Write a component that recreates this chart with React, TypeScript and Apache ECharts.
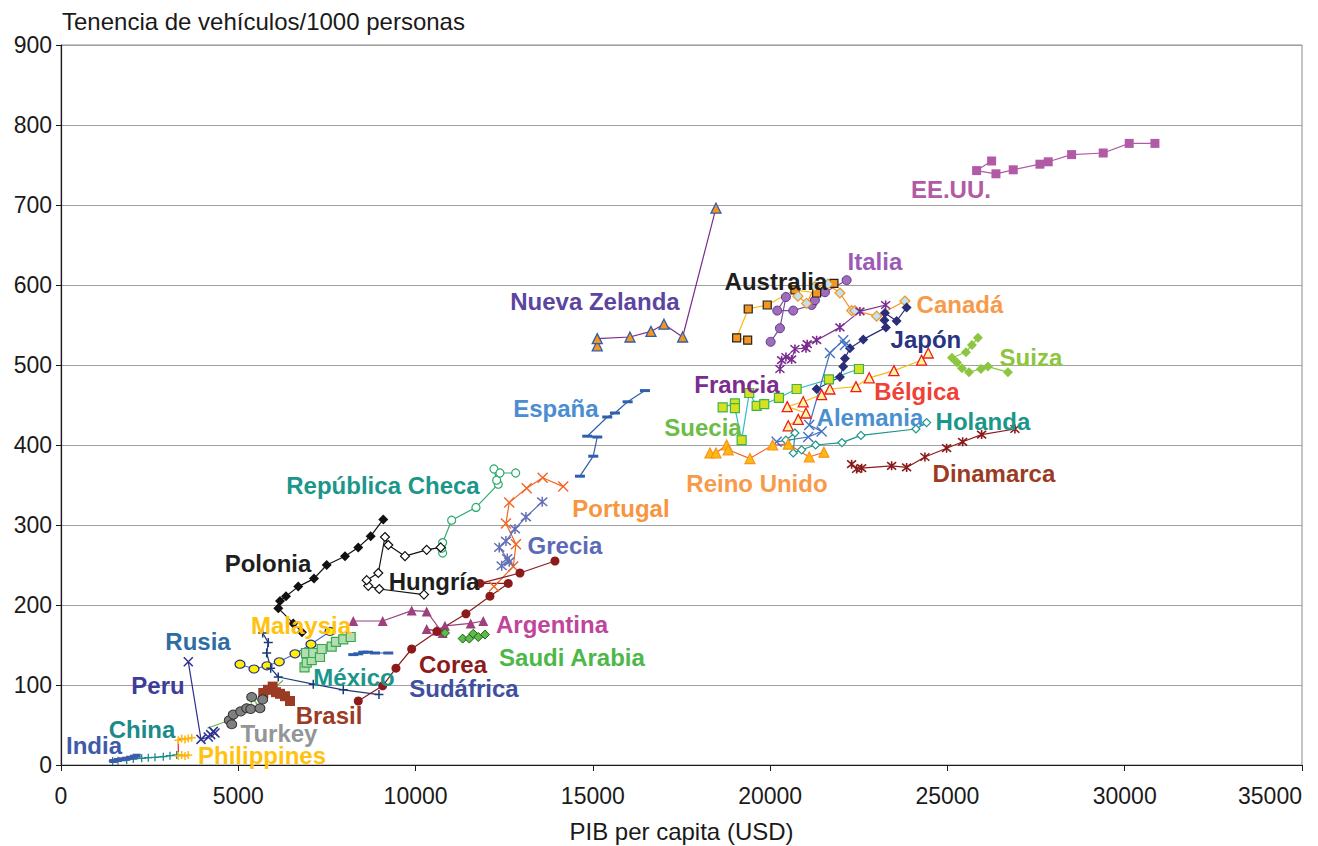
import React, { useEffect, useRef } from "react";
import * as echarts from "echarts";

// ---- data (x: PIB per capita USD, y: vehículos / 1000 personas) ----
const usa = [[26246,755],[25823,743],[26368,739],[26856,744],[27608,751],[27843,754],[28502,763],[29394,765],[30127,777],[30852,777]];
const italy = [[20014,529],[20276,546],[20445,585],[20200,568],[20651,568],[21170,575],[21263,581],[21545,591],[22157,606]];
const australia = [[19366,531],[19055,534],[19382,570],[19918,575],[20699,594],[21311,590],[21799,602]];
const canada = [[20784,586],[21029,577],[21263,598],[21630,601],[21968,590],[22298,568],[22391,568],[23003,561],[23801,580]];
const japan = [[21311,470],[21968,485],[22061,498],[22109,508],[22250,521],[22626,532],[23266,547],[23223,556],[23237,565],[23567,555],[23849,572]];
const france = [[20276,495],[20324,506],[20445,510],[20606,507],[20699,520],[21010,521],[21046,526],[21311,531],[21968,547],[22532,567],[23257,575]];
const switzerland = [[25860,534],[25691,525],[25522,516],[25127,509],[25268,503],[25409,496],[25606,491],[25945,495],[26142,498],[26706,491]];
const belgium = [[20510,424],[20792,432],[21010,440],[20482,448],[20933,454],[21452,463],[21686,470],[22420,473],[22795,484],[23491,493],[24272,506],[24459,515]];
const sweden = [[18661,447],[19007,452],[19007,446],[19196,406],[19411,465],[19619,449],[19834,451],[20248,459],[20747,470],[21658,482],[22504,495]];
const germany = [[20183,404],[21074,410],[21452,417],[21102,425],[21686,515],[22061,531],[22109,525]];
const netherlands = [[20445,406],[20699,415],[20651,390],[20888,394],[21283,400],[22025,403],[22561,412],[24112,420],[24413,428]];
const denmark = [[22298,376],[22439,370],[22580,371],[23426,374],[23849,372],[24365,385],[24977,396],[25429,404],[25964,413],[26903,420]];
const uk = [[18302,390],[18472,390],[18773,400],[18818,394],[19430,383],[20070,400],[20510,401],[21103,385],[21517,391]];
const newZealand = [[15124,524],[15124,533],[16046,535],[16638,542],[17005,551],[17532,535],[18472,696]];
const spain = [[14636,361],[15011,386],[15124,410],[14842,411],[15406,435],[15623,440],[15981,454],[16469,468]];
const portugal = [[12211,223],[12755,248],[12831,276],[12549,302],[12642,328],[13133,346],[13584,359],[14165,348]];
const greece = [[12428,249],[12642,254],[12586,258],[12360,272],[12549,280],[12803,295],[13113,310],[13573,329]];
const czech = [[10764,265],[10736,271],[10764,278],[11018,306],[11703,322],[12332,351],[12287,356],[12211,370],[12380,365],[12823,365]];
const poland = [[6796,166],[6551,177],[6128,196],[6176,205],[6345,211],[6692,223],[7135,233],[7493,250],[8009,261],[8384,272],[8734,286],[9089,307]];
const hungary = [[10237,213],[8976,220],[8666,224],[8621,231],[8948,240],[9137,285],[9230,275],[9701,261],[10313,269],[10708,272]];
const malaysia = [[5048,126],[5443,120],[5809,124],[6156,129],[6599,139],[7050,151],[7586,167]];
const russia = [[5688,165],[5846,153],[5801,140],[5914,121],[6128,110],[7115,101],[7961,94],[8968,88]];
const mexico = [[6867,122],[6929,128],[7070,131],[6909,140],[7115,140],[7304,135],[7352,145],[7634,148],[7755,154],[7961,157],[8170,160]];
const southAfrica = [[8243,138],[8384,139],[8525,141],[8658,141],[8855,140],[9230,140]];
const argentina = [[8243,180],[9072,180],[9890,193],[10313,192],[10764,165],[10313,170],[10595,168],[10829,174],[11554,177],[11909,180]];
const saudiArabia = [[10829,165],[11328,158],[11515,158],[11627,164],[11768,160],[11957,163]];
const korea = [[8384,80],[9072,99],[9447,121],[9890,145],[10603,167],[11421,189],[12098,211],[12614,227],[11816,227],[12944,240],[13931,255]];
const brazil = [[5705,90],[5838,94],[5970,98],[6063,91],[6176,89],[6317,86],[6458,80]];
const turkey = [[4126,46],[4746,56],[4814,51],[4859,63],[5068,67],[5237,71],[5350,70],[5378,85],[5612,71],[5688,82],[6261,106]];
const peru = [[3590,129],[3948,32],[4154,35],[4222,38],[4295,42],[4343,40]];
const china = [[1458,5],[1607,5.4],[1853,6.3],[2039,7.5],[2276,8.4],[2462,9.1],[2651,9.6],[2885,10.4],[3074,11.6],[3263,12.5]];
const india = [[1475,5],[1607,6.3],[1720,7.1],[1833,7.9],[1946,9.1],[2059,10.4],[2135,11.6]];
const philippines = [[3590,12.5],[3497,11.3],[3404,12.5],[3308,11.3],[3308,31],[3404,33],[3497,32],[3590,33],[3686,34]];

// country label names and their anchor points in data units
const labelNames = ["EE.UU.","Italia","Australia","Canadá","Nueva Zelanda","Japón","Suiza","Francia","Bélgica","España","Alemania","Holanda","Suecia","Dinamarca","Reino Unido","República Checa","Portugal","Grecia","Polonia","Hungría","Argentina","Malaysia","Rusia","Saudi Arabia","Corea","México","Peru","Sudáfrica","Brasil","China","Turkey","India","Philippines"];
const labelPoints = [[25099,719],[22955,630],[20164,605],[25352,576],[15059,580],[24394,532],[27355,509],[19064,476],[24140,467],[13959,446],[22814,435],[26001,430],[18105,422],[26311,364],[19628,352],[9081,350],[15792,321],[14213,274],[5838,252],[10519,230],[13847,176],[6768,174],[3863,155],[14411,135],[11055,126],[8263,110],[2735,100],[11365,96],[7558,62],[2284,44],[6148,40],[931,24],[5668,12.5]];

const xTicks = { min: 0, max: 35000, interval: 5000 };
const yTicks = { min: 0, max: 900, interval: 100 };

// ---- styles ----
const labelColors: Record<string, string> = {
  "EE.UU.": "#B15BA6", "Italia": "#9B5BB5", "Australia": "#1E1E1E", "Canadá": "#F79A4A",
  "Nueva Zelanda": "#5B45A0", "Japón": "#283480", "Suiza": "#8CC63F", "Francia": "#7B2C8F",
  "Bélgica": "#EF4136", "España": "#4A8DD0", "Alemania": "#4A90D0", "Holanda": "#1B968A",
  "Suecia": "#6ABD45", "Dinamarca": "#9B3B24", "Reino Unido": "#F79A4A", "República Checa": "#1B968A",
  "Portugal": "#F7963F", "Grecia": "#5B6BB5", "Polonia": "#1E1E1E", "Hungría": "#1E1E1E",
  "Argentina": "#C1449B", "Malaysia": "#FFC20E", "Rusia": "#2E6DA4", "Saudi Arabia": "#4CB848",
  "Corea": "#8B1A1A", "México": "#1B968A", "Peru": "#3D3D99", "Sudáfrica": "#3F4FA0",
  "Brasil": "#9B3B24", "China": "#1B8A8A", "Turkey": "#939598", "India": "#3D5BA9",
  "Philippines": "#FFC20E",
};

const SYM_X = "path://M0,0L10,10M10,0L0,10";
const SYM_AST = "path://M0,0L10,10M10,0L0,10M5,-1L5,11";
const SYM_PLUS = "path://M5,0L5,10M0,5L10,5";
const FONT = "'Liberation Sans', Arial, Helvetica, sans-serif";

type S = {
  name: string; data: number[][]; symbol: string; size: number | number[];
  fill: string; stroke?: string; sw?: number; line: string; lw?: number; noLine?: boolean;
  hideEnds?: boolean;
};

const seriesDefs: S[] = [
  { name: "EE.UU.", data: usa, symbol: "rect", size: 9, fill: "#B15BA6", line: "#B15BA6" },
  { name: "Italia", data: italy, symbol: "circle", size: 9, fill: "#A06CC0", stroke: "#5E3A7E", sw: 1, line: "#7B4C9E" },
  { name: "Australia", data: australia, symbol: "rect", size: 8, fill: "#F7941D", stroke: "#222222", sw: 1.2, line: "#FDB913" },
  { name: "Canadá", data: canada, symbol: "diamond", size: 10, fill: "#BFE3F2", stroke: "#F7941D", sw: 1.2, line: "#F7941D" },
  { name: "Japón", data: japan, symbol: "diamond", size: 10, fill: "#2A2D78", line: "#2A2D78" },
  { name: "Francia", data: france, symbol: SYM_AST, size: 9, fill: "#7B2C8F", stroke: "#7B2C8F", sw: 1.6, line: "#7B2C8F" },
  { name: "Suiza", data: switzerland, symbol: "diamond", size: 10, fill: "#8CC63F", line: "#8CC63F" },
  { name: "Bélgica", data: belgium, symbol: "triangle", size: 10, fill: "#FFF59D", stroke: "#ED1C24", sw: 1.3, line: "#FDB913" },
  { name: "Suecia", data: sweden, symbol: "rect", size: 9, fill: "#D9E021", stroke: "#39B54A", sw: 1.2, line: "#35B8C8" },
  { name: "Alemania", data: germany, symbol: SYM_X, size: 10, fill: "#4472C4", stroke: "#4472C4", sw: 1.4, line: "#4472C4" },
  { name: "Holanda", data: netherlands, symbol: "diamond", size: 8, fill: "#FFFFFF", stroke: "#1B968A", sw: 1.2, line: "#1B968A" },
  { name: "Dinamarca", data: denmark, symbol: SYM_AST, size: 9, fill: "#8B1A1A", stroke: "#8B1A1A", sw: 1.6, line: "#8B1A1A" },
  { name: "Reino Unido", data: uk, symbol: "triangle", size: 10, fill: "#FDB913", stroke: "#F7941D", sw: 1.2, line: "#F26522" },
  { name: "Nueva Zelanda", data: newZealand, symbol: "triangle", size: 10, fill: "#F7941D", stroke: "#2E5FAC", sw: 1.3, line: "#7B2D8E" },
  { name: "España", data: spain, symbol: "rect", size: [10, 3], fill: "#2E5FAC", line: "#2E5FAC" },
  { name: "Portugal", data: portugal, symbol: SYM_X, size: 10, fill: "#F26522", stroke: "#F26522", sw: 1.4, line: "#F26522" },
  { name: "Grecia", data: greece, symbol: SYM_AST, size: 10, fill: "#6470B5", stroke: "#6470B5", sw: 1.5, line: "#6470B5" },
  { name: "República Checa", data: czech, symbol: "circle", size: 8, fill: "#FFFFFF", stroke: "#2DAA6E", sw: 1.2, line: "#2DAA6E" },
  { name: "Polonia", data: poland, symbol: "diamond", size: 10, fill: "#111111", line: "#111111" },
  { name: "Hungría", data: hungary, symbol: "diamond", size: 9, fill: "#FFFFFF", stroke: "#111111", sw: 1.2, line: "#111111" },
  { name: "Malaysia", data: malaysia, symbol: "circle", size: [10, 8], fill: "#FFF200", stroke: "#2E3192", sw: 1.2, line: "#4472C4" },
  { name: "Rusia", data: russia, symbol: SYM_PLUS, size: 9, fill: "#1F3A7A", stroke: "#1F3A7A", sw: 1.5, line: "#1F3A7A" },
  { name: "México", data: mexico, symbol: "rect", size: 9, fill: "#B3DEB3", stroke: "#39A84A", sw: 1.2, line: "#39A84A" },
  { name: "Sudáfrica", data: southAfrica, symbol: "rect", size: [10, 3], fill: "#2E5FAC", line: "#2E5FAC" },
  { name: "Argentina", data: argentina, symbol: "triangle", size: 10, fill: "#9E3F7E", line: "#9E3F7E" },
  { name: "Saudi Arabia", data: saudiArabia, symbol: "diamond", size: 9, fill: "#5DBB46", stroke: "#1A5E20", sw: 1, line: "#5DBB46", noLine: true },
  { name: "Corea", data: korea, symbol: "circle", size: 9, fill: "#8B1A1A", line: "#8B1A1A" },
  { name: "Brasil", data: brazil, symbol: "rect", size: 10, fill: "#9B3B24", line: "#9B3B24" },
  { name: "Turkey", data: turkey, symbol: "circle", size: [10, 9], fill: "#808080", stroke: "#333333", sw: 1, line: "#66BB44", hideEnds: true },
  { name: "Peru", data: peru, symbol: SYM_X, size: 9, fill: "#2E3192", stroke: "#2E3192", sw: 1.5, line: "#2E3192" },
  { name: "China", data: china, symbol: SYM_PLUS, size: 8, fill: "#1B8A8A", stroke: "#1B8A8A", sw: 1.3, line: "#1B8A8A" },
  { name: "India", data: india, symbol: "rect", size: [8, 4], fill: "#3D5BA9", line: "#3D5BA9", lw: 2 },
  { name: "Philippines", data: philippines, symbol: SYM_PLUS, size: 8, fill: "#FDB913", stroke: "#FDB913", sw: 1.5, line: "#ED1C24" },
];

export default function App() {
  const ref = useRef<HTMLDivElement>(null);
  useEffect(() => {
    document.body.style.margin = "0";
    if (!ref.current) return;
    const chart = echarts.init(ref.current, undefined, { renderer: "svg", width: 1318, height: 846 });

    const series: any[] = seriesDefs.map((d) => ({
      name: d.name,
      type: "line",
      showSymbol: true,
      showAllSymbol: true,
      symbol: d.symbol,
      symbolSize: d.size,
      data: d.data.map((p, i) =>
        d.hideEnds && (i === 0 || i === d.data.length - 1)
          ? { value: p, symbol: "none" }
          : { value: p }
      ),
      itemStyle: {
        color: d.fill,
        borderColor: d.stroke ?? d.fill,
        borderWidth: d.sw ?? 0,
        opacity: 1,
      },
      lineStyle: { color: d.line, width: d.noLine ? 0 : d.lw ?? 1.2, opacity: d.noLine ? 0 : 1 },
      emphasis: { disabled: true },
      silent: true,
      z: 3,
    }));

    series.push({
      name: "labels",
      type: "scatter",
      symbolSize: 1,
      itemStyle: { color: "transparent", opacity: 1 },
      silent: true,
      z: 10,
      data: labelNames.map((n, i) => ({
        name: n,
        value: labelPoints[i],
        label: { color: labelColors[n], opacity: 1 },
      })),
      label: {
        show: true,
        position: "inside",
        formatter: "{b}",
        fontFamily: FONT,
        fontWeight: "bold",
        fontSize: 24,
        opacity: 1,
      },
      emphasis: { disabled: true },
      labelLayout: { hideOverlap: false },
    });

    chart.setOption({
      animation: false,
      backgroundColor: "#ffffff",
      grid: {
        left: 61, right: 16, top: 45, bottom: 81,
        show: true, borderColor: "#8a8a8a", borderWidth: 1,
        containLabel: false,
        outerBoundsMode: "none",
      },
      graphic: [
        {
          type: "text",
          left: 62,
          top: 9,
          style: {
            text: "Tenencia de vehículos/1000 personas",
            fontFamily: FONT,
            fontSize: 24,
            fill: "#1a1a1a",
          },
        },
      ],
      xAxis: {
        type: "value",
        min: xTicks.min, max: xTicks.max, interval: xTicks.interval,
        name: "PIB per capita (USD)",
        nameLocation: "middle",
        nameGap: 54,
        nameTextStyle: { fontFamily: FONT, fontSize: 24, color: "#1a1a1a" },
        axisLine: { lineStyle: { color: "#1a1a1a", width: 1.2 } },
        axisTick: { show: true, inside: false, length: 6, lineStyle: { color: "#1a1a1a" } },
        axisLabel: {
          fontFamily: FONT, fontSize: 23, color: "#1a1a1a", margin: 19,
          formatter: (v: number) => String(v),
          alignMaxLabel: "right",
        },
        splitLine: { show: false },
      },
      yAxis: {
        type: "value",
        min: yTicks.min, max: yTicks.max, interval: yTicks.interval,
        axisLine: { show: true, lineStyle: { color: "#1a1a1a", width: 1.2 } },
        axisTick: { show: true, inside: false, length: 5, lineStyle: { color: "#1a1a1a" } },
        axisLabel: { fontFamily: FONT, fontSize: 23, color: "#1a1a1a", margin: 9, formatter: (v: number) => String(v) },
        splitLine: { show: true, lineStyle: { color: "#a0a0a0", width: 1 } },
      },
      series,
    });
    return () => chart.dispose();
  }, []);
  return (
    <div
      ref={ref}
      style={{ position: "fixed", left: 0, top: 0, width: 1318, height: 846 }}
    />
  );
}
